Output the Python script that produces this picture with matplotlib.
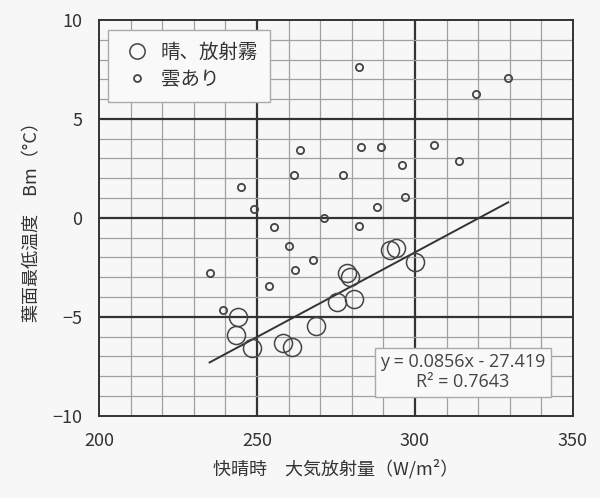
import matplotlib.pyplot as plt
from matplotlib.lines import Line2D

plt.rcParams['font.family'] = ['Noto Sans CJK JP', 'DejaVu Sans']

# 晴、放射霧 (large circles)
clear_x = [244.0, 243.4, 248.4, 258.2, 261.0, 268.7, 275.3, 280.7, 278.5, 279.4, 292.1, 294.0, 300.0]
clear_y = [-5.0, -5.9, -6.57, -6.3, -6.5, -5.45, -4.24, -4.09, -2.78, -2.98, -1.62, -1.52, -2.22]

# 雲あり (small circles)
cloud_x = [235.1, 239.2, 244.9, 249.1, 255.4, 253.8, 260.1, 262.0, 267.7, 271.2, 282.3,
           261.7, 263.6, 282.3, 319.3, 329.4, 282.9, 289.2, 277.2, 295.9, 306.0, 313.9,
           296.8, 288.0]
cloud_y = [-2.78, -4.65, 1.57, 0.45, -0.45, -3.43, -1.41, -2.63, -2.12, 0.0, -0.4,
           2.17, 3.45, 7.63, 6.26, 7.07, 3.59, 3.59, 2.17, 2.68, 3.69, 2.88,
           1.06, 0.56]

# trend line y = 0.0856x - 27.419
slope, intercept = 0.0856, -27.419
trend_x = [235.0, 329.5]
trend_y = [slope * x + intercept for x in trend_x]

bg = '#f7f7f7'
fig = plt.figure(figsize=(6, 4.98), dpi=100, facecolor=bg)
ax = fig.add_axes([0.165, 0.165, 0.79, 0.795], facecolor=bg)

ax.set_xlim(200, 350)
ax.set_ylim(-10, 10)

# grid: minor light, major dark
for x in range(210, 350, 10):
    major = x % 50 == 0
    ax.axvline(x, color='#333333' if major else '#a0a0a0',
               lw=1.6 if major else 0.9, zorder=0)
for y in range(-9, 10):
    major = y % 5 == 0
    ax.axhline(y, color='#333333' if major else '#a0a0a0',
               lw=1.6 if major else 0.9, zorder=0)

for s in ax.spines.values():
    s.set_color('#333333')
    s.set_linewidth(1.4)

ax.plot(trend_x, trend_y, color='#333333', lw=1.4, zorder=2)

ax.plot(cloud_x, cloud_y, 'o', ms=5.2, mfc='none', mec='#444444', mew=1.3, zorder=3)
ax.plot(clear_x, clear_y, 'o', ms=13, mfc='none', mec='#444444', mew=1.1, zorder=3)

ax.set_xticks([200, 250, 300, 350])
ax.set_yticks([-10, -5, 0, 5, 10])
ax.tick_params(length=0, labelsize=13, labelcolor='#333333')
ax.tick_params(axis='x', pad=12)
ax.tick_params(axis='y', pad=12)

ax.set_xlabel('快晴時　大気放射量（W/m²）', fontsize=13, color='#333333', labelpad=6)
ax.set_ylabel('葉面最低温度　Bm（°C）', fontsize=13, color='#333333', labelpad=8)

handles = [
    Line2D([], [], ls='none', marker='o', ms=11, mfc='none', mec='#444444', mew=1.1),
    Line2D([], [], ls='none', marker='o', ms=5, mfc='none', mec='#444444', mew=1.3),
]
leg = ax.legend(handles, ['晴、放射霧', '雲あり'], loc='upper left',
                bbox_to_anchor=(0.019, 0.975), borderaxespad=0, fontsize=14,
                frameon=True, fancybox=False, edgecolor='#aaaaaa', facecolor='#f9f9f9',
                framealpha=1, handletextpad=0.3, handlelength=1.8,
                borderpad=0.6, labelspacing=0.35, labelcolor='#333333')
leg.get_frame().set_linewidth(1.0)

ax.text(0.768, 0.11, 'y = 0.0856x - 27.419\nR² = 0.7643', transform=ax.transAxes,
        ha='center', va='center', fontsize=13, color='#444444', linespacing=1.15,
        family=['Open Sans', 'DejaVu Sans'], zorder=5,
        bbox=dict(boxstyle='square,pad=0.3', fc='#f9f9f9', ec='#aaaaaa', lw=1.0))

fig.savefig('out.png', dpi=100, facecolor=bg)
